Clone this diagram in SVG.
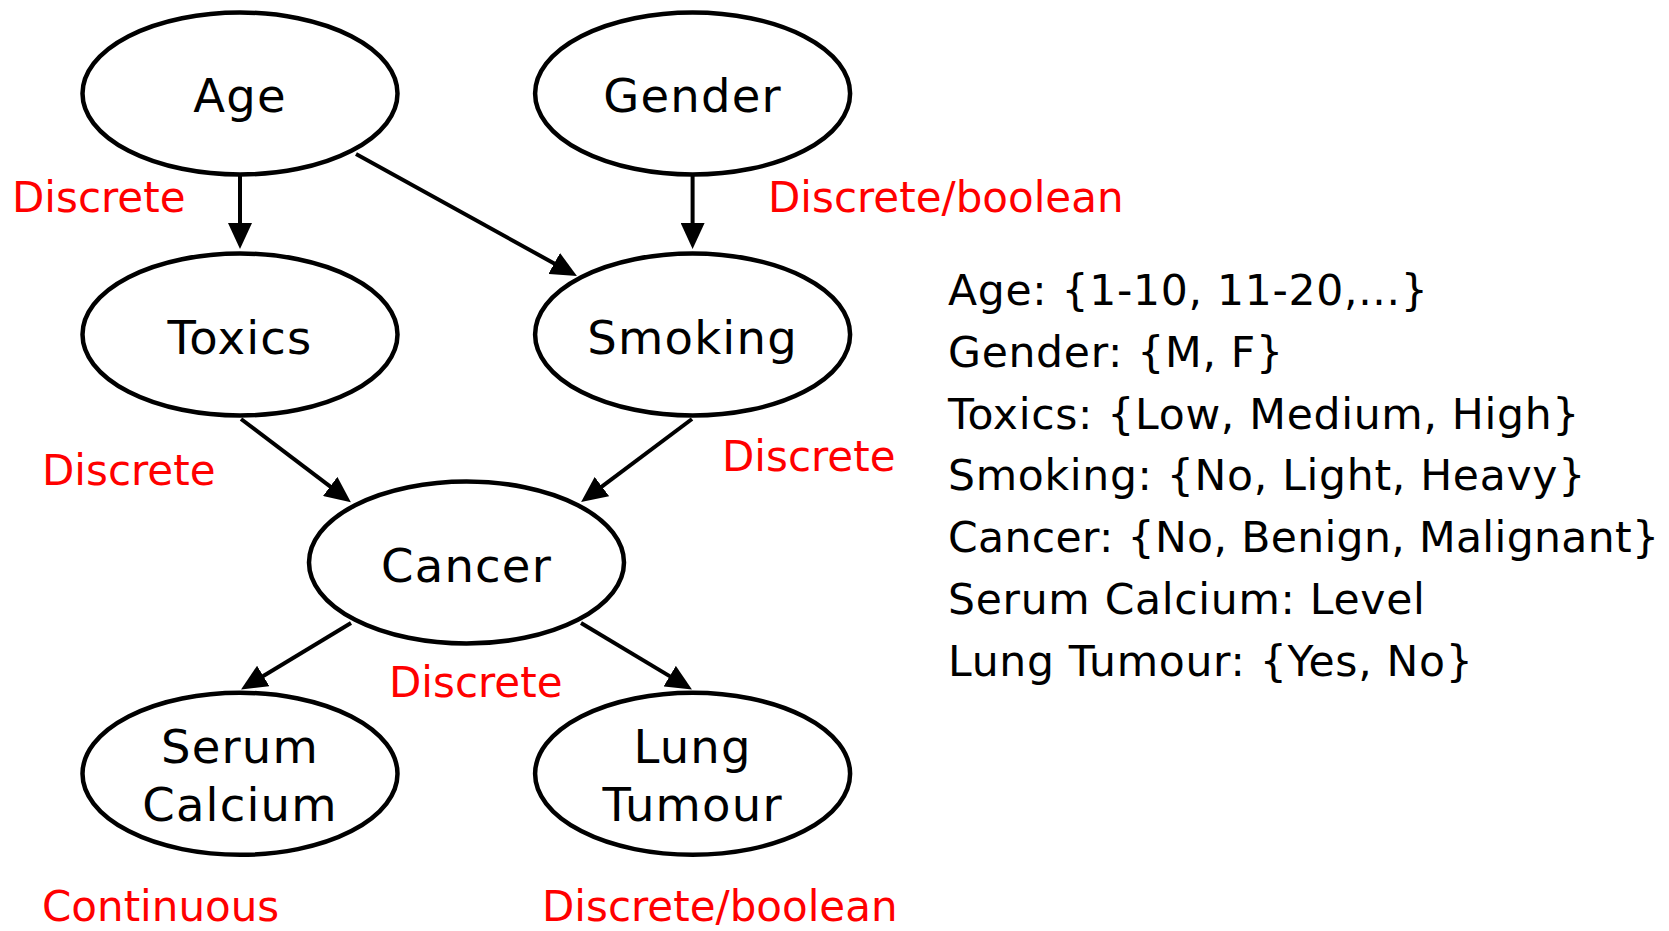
<svg xmlns="http://www.w3.org/2000/svg" width="1669" height="931" viewBox="0 0 1669 931">
<style>
.node ellipse{fill:#fff;stroke:#000;stroke-width:4.5}
.node text{font-family:"DejaVu Sans",Verdana,sans-serif;font-size:46.5px;letter-spacing:1.2px;fill:#000;text-anchor:middle}
.edge{stroke:#000;stroke-width:4;fill:none;marker-end:url(#arr)}
.lbl{font-family:"DejaVu Sans",Verdana,sans-serif;font-size:42px;fill:#ff0000}
.dom{font-family:"DejaVu Sans",Verdana,sans-serif;font-size:42.5px;letter-spacing:0.7px;fill:#000}
</style>
<defs>
<marker id="arr" viewBox="0 0 26 24" refX="16" refY="12" markerWidth="26" markerHeight="24" markerUnits="userSpaceOnUse" orient="auto">
<path d="M0,0 L26,12 L0,24 z" fill="#000"/>
</marker>
</defs>
<rect width="1669" height="931" fill="#fff"/>
<g id="connectors">
<line class="edge" x1="240" y1="176" x2="240" y2="239"/>
<line class="edge" x1="692.6" y1="176" x2="692.6" y2="239"/>
<line class="edge" x1="356" y1="154" x2="568.2" y2="271.2"/>
<line class="edge" x1="241" y1="419" x2="342.9" y2="496.1"/>
<line class="edge" x1="692" y1="419" x2="589.1" y2="496.1"/>
<line class="edge" x1="351" y1="623" x2="249.6" y2="684.3"/>
<line class="edge" x1="581" y1="623" x2="683.4" y2="684.4"/>
</g>
<g id="age" class="node"><ellipse cx="240" cy="93.5" rx="157.5" ry="81"/><text x="240" y="112">Age</text></g>
<g id="gender" class="node"><ellipse cx="692.6" cy="93.5" rx="157.5" ry="81"/><text x="692.6" y="112">Gender</text></g>
<g id="toxics" class="node"><ellipse cx="240" cy="334.5" rx="157.5" ry="81"/><text x="240" y="354">Toxics</text></g>
<g id="smoking" class="node"><ellipse cx="692.6" cy="334.5" rx="157.5" ry="81"/><text x="692.6" y="354">Smoking</text></g>
<g id="cancer" class="node"><ellipse cx="466.5" cy="562.5" rx="157.5" ry="81"/><text x="466.5" y="581.5">Cancer</text></g>
<g id="serum" class="node"><ellipse cx="240" cy="773.8" rx="157.5" ry="81"/><text x="240" y="763">Serum</text><text x="240" y="821">Calcium</text></g>
<g id="lung" class="node"><ellipse cx="692.6" cy="773.8" rx="157.5" ry="81"/><text x="692.6" y="763">Lung</text><text x="692.6" y="821">Tumour</text></g>
<g id="labels">
<text class="lbl" x="12" y="212">Discrete</text>
<text class="lbl" x="768" y="212">Discrete/boolean</text>
<text class="lbl" x="42" y="485">Discrete</text>
<text class="lbl" x="722" y="471">Discrete</text>
<text class="lbl" x="389" y="697">Discrete</text>
<text class="lbl" x="42" y="921">Continuous</text>
<text class="lbl" x="542" y="921">Discrete/boolean</text>
</g>
<g id="domains">
<text class="dom" x="948" y="305">Age: {1-10, 11-20,...}</text>
<text class="dom" x="948" y="366.8">Gender: {M, F}</text>
<text class="dom" x="948" y="428.6">Toxics: {Low, Medium, High}</text>
<text class="dom" x="948" y="490.4">Smoking: {No, Light, Heavy}</text>
<text class="dom" x="948" y="552.2" style="letter-spacing:0.35px">Cancer: {No, Benign, Malignant}</text>
<text class="dom" x="948" y="614">Serum Calcium: Level</text>
<text class="dom" x="948" y="675.8">Lung Tumour: {Yes, No}</text>
</g>
</svg>
